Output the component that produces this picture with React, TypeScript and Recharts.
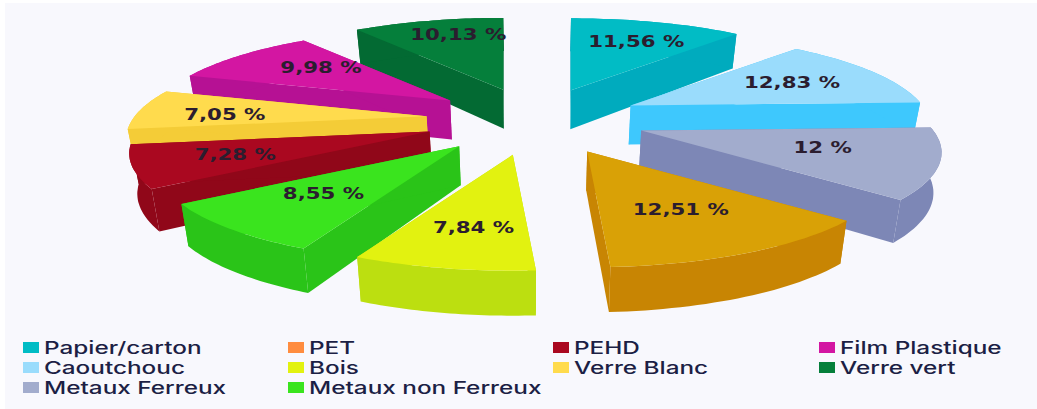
import { Legend, Pie, PieChart } from "recharts";

const categories = [
  "Papier/carton",
  "Caoutchouc",
  "Metaux Ferreux",
  "PET",
  "Bois",
  "Metaux non Ferreux",
  "PEHD",
  "Verre Blanc",
  "Film Plastique",
  "Verre vert",
];
const shares = [11.56, 12.83, 12, 12.51, 7.84, 8.55, 7.28, 7.05, 9.98, 10.13];
const topColors = ["#01BCC5", "#9ADCFC", "#A2ACCD", "#D9A106", "#E2F210", "#3AE41E", "#AA0820", "#FFDB4D", "#D316A2", "#057F3B"];
const wallColors = ["#00ABBE", "#3EC8FD", "#7D87B6", "#C88503", "#BCDF10", "#2AC418", "#900719", "#F4CC37", "#B61194", "#036A33"];
const legendColors = ["#01BCC5", "#9ADCFC", "#A2ACCD", "#FF8C3F", "#E2F210", "#3AE41E", "#AA0820", "#FFDB4D", "#D316A2", "#057F3B"];

// small shifts of the value labels, the source chart doesn't centre them exactly
const labelNudgeX = [6, 0, -7, -3, 2, 3, -7, -15, 13, 7];
const labelNudgeY = [-1, 0, -3, -2, 6, -2, 1, 3, -2, -7];

// back slices first, the front ones paint over their neighbours' walls
const drawOrder = [9, 8, 7, 6, 5, 0, 1, 2, 3, 4];

const rows = categories.map((name, i) => ({ name, value: shares[i] }));

const TILT = 0.304;
const PERSPECTIVE = 0.234;
const EXPLODE = 0.375;
const WALL_LEAN = 0.98;

function toPath(points: number[][]) {
  return "M" + points.map((p) => p[0].toFixed(1) + "," + p[1].toFixed(1)).join("L") + "Z";
}

function Slice3D(props: any) {
  const { cx, cy, outerRadius: R, startAngle, endAngle, name, value } = props;
  const i = categories.indexOf(name);
  const rad = (a: number) => ((90 - a) * Math.PI) / 180;
  const mid = rad((startAngle + endAngle) / 2);

  const sApex = 1 / (1 + PERSPECTIVE * EXPLODE * Math.cos(mid));
  const ax = cx + R * EXPLODE * Math.sin(mid) * sApex;
  const ay = cy - R * TILT * EXPLODE * Math.cos(mid) * sApex;

  const pt = (t: number, r: number) => {
    const s = 1 / (1 + PERSPECTIVE * r * Math.cos(t));
    return [ax + R * r * Math.sin(t) * s, ay - R * TILT * r * Math.cos(t) * s];
  };
  const drop = (t: number, r: number) => {
    const p = pt(t, r);
    return [cx + (p[0] - cx) * WALL_LEAN, p[1] + 39 - 6 * r * Math.cos(t)];
  };

  const t0 = rad(startAngle);
  const t1 = rad(endAngle);
  const arc: number[] = [];
  for (let k = 0; k <= 32; k++) arc.push(t0 + ((t1 - t0) * k) / 32);

  const top = [pt(0, 0), ...arc.map((t) => pt(t, 1))];
  const rim = [...arc.map((t) => pt(t, 1)), ...arc.slice().reverse().map((t) => drop(t, 1))];
  const side0 = [pt(0, 0), pt(t0, 1), drop(t0, 1), drop(0, 0)];
  const side1 = [pt(0, 0), pt(t1, 1), drop(t1, 1), drop(0, 0)];
  const labelPos = pt(mid, 0.65);
  const label = String(value).replace(".", ",") + " %";

  return (
    <g>
      <path d={toPath(side0)} fill={wallColors[i]} />
      <path d={toPath(side1)} fill={wallColors[i]} />
      <path d={toPath(rim)} fill={wallColors[i]} />
      <path d={toPath(top)} fill={topColors[i]} />
      <text
        transform={`translate(${labelPos[0] + labelNudgeX[i]},${labelPos[1] + labelNudgeY[i]}) scale(1.42,1)`}
        textAnchor="middle"
        dominantBaseline="central"
        fontFamily="DejaVu Sans"
        fontWeight={700}
        fontSize={15}
        fill="#2B1D2F"
      >
        {label}
      </text>
    </g>
  );
}

function LegendGrid() {
  const colX = [23, 288, 553, 819];
  const perCol = [3, 3, 2, 2];
  const items: any[] = [];
  let n = 0;
  perCol.forEach((count, c) => {
    for (let r = 0; r < count; r++, n++) {
      items.push({ name: categories[n], color: legendColors[n], x: colX[c], y: 20 * r });
    }
  });
  return (
    <svg width={1037} height={70} style={{ display: "block" }}>
      {items.map((it) => (
        <g key={it.name}>
          <rect x={it.x} y={it.y + 6} width={16} height={11} fill={it.color} />
          <text
            transform={`translate(${it.x + 21},${it.y + 12}) scale(1.43,1)`}
            dominantBaseline="central"
            fontFamily="Inter"
            fontWeight={500}
            fontSize={17}
            fill="#1C1F45"
          >
            {it.name}
          </text>
        </g>
      ))}
    </svg>
  );
}

export default function App() {
  return (
    <div style={{ position: "absolute", left: 0, top: 0, width: 1037, height: 409, background: "#fff" }}>
      <div style={{ position: "absolute", left: 5, top: 3, right: 0, bottom: 0, background: "#F8F8FD" }} />
      <div style={{ position: "absolute", left: 0, top: 0 }}>
        <PieChart width={1037} height={409} margin={{ top: 0, right: 0, bottom: 0, left: 0 }}>
          {drawOrder.map((idx) => (
            <Pie
              key={idx}
              data={rows}
              dataKey="value"
              nameKey="name"
              cx={535}
              cy={119}
              outerRadius={292}
              startAngle={90}
              endAngle={-270}
              stroke="none"
              legendType="none"
              isAnimationActive={false}
              shape={(props: any) => (props.name === categories[idx] ? <Slice3D {...props} /> : <g />)}
            />
          ))}
          <Legend
            layout="horizontal"
            align="left"
            verticalAlign="bottom"
            content={() => <LegendGrid />}
            wrapperStyle={{ left: 0, top: 336, bottom: "auto", width: 1037 }}
          />
        </PieChart>
      </div>
    </div>
  );
}
